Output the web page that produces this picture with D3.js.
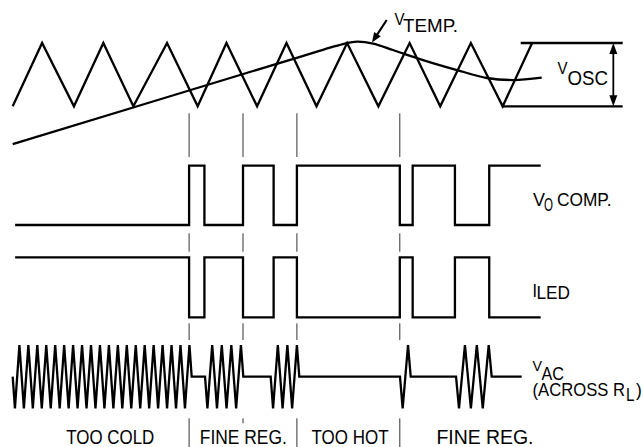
<!DOCTYPE html>
<html><head><meta charset="utf-8">
<script src="https://cdn.jsdelivr.net/npm/d3@7/dist/d3.min.js"></script>
<style>html,body{margin:0;padding:0;background:#fff}svg{display:block}</style>
</head><body><svg id="c" width="644" height="447"></svg>
<script>
// ---- data (time in oscillator periods) ----
const oscT = [0, 0.48, 1.0, 1.48, 1.97, 2.52, 3.02, 3.49, 3.99, 4.47, 4.96, 5.46, 5.97, 6.48, 6.98, 7.48, 8.0, 8.48];
const oscV = [0, 1, 0, 1, 0, 1, 0, 1, 0, 1, 0, 1, 0, 1, 0, 1, 0, 1];
const tempT = [0, 4.691, 5.18, 5.425, 5.621, 5.883, 6.209, 6.699, 7.254, 7.744, 8.169, 8.637];
const tempV = [-0.596, 0.782, 0.926, 0.992, 1.021, 0.992, 0.889, 0.731, 0.573, 0.447, 0.415, 0.452];
const edgeT = [0.04, 2.88, 3.13, 3.76, 4.26, 4.64, 6.32, 6.53, 7.22, 7.78, 8.62];
const compLevels = [0, 1, 0, 1, 0, 1, 0, 1, 0, 1];
const ledLevels = [1, 0, 1, 0, 1, 0, 1, 0, 1, 0];
const guideT = [2.88, 3.76, 4.64, 6.32];
const vacStartT = 0, vacEndT = 8.31;
const burstStart = [0, 3.14, 4.212, 6.323, 7.238];
const burstEnd = [2.922, 3.765, 4.679, 6.498, 7.82];
const burstCycles = [20, 4, 3, 1, 3];
const regionLabels = ["TOO COLD", "FINE REG.", "TOO HOT", "FINE REG."];
const regionCenterT = [1.594, 3.765, 5.507, 7.711];
const oscBoxT = [7.984, 8.294, 9.959, 9.806]; // bottom-line start, top-line start, line end, arrow

const svg = d3.select("#c");
const x = d3.scaleLinear().domain([0, 8]).range([12.7, 502.7]);
const yOsc = d3.scaleLinear().domain([0, 1]).range([106.3, 43]);
const yComp = d3.scaleLinear().domain([0, 1]).range([225, 165.7]);
const yLed = d3.scaleLinear().domain([0, 1]).range([317.3, 257.3]);
const yVac = d3.scaleLinear().domain([-1, 1]).range([408.3, 345]);

const SW = 2.3;
function path(pts, ys, curve) {
  return svg.append("path")
    .attr("d", d3.line().x(d => x(d[0])).y(d => ys(d[1])).curve(curve || d3.curveLinear)(pts))
    .attr("fill", "none").attr("stroke", "#000").attr("stroke-width", SW)
    .attr("stroke-linejoin", "miter").attr("stroke-miterlimit", 10);
}

// oscillator triangle
path(oscT.map((t, i) => [t, oscV[i]]), yOsc);
// V TEMP curve
path(tempT.map((t, i) => [t, tempV[i]]), yOsc, d3.curveCatmullRom.alpha(0.5));

// comparator / LED step signals
function stepPts(levels) {
  const p = levels.map((l, i) => [edgeT[i], l]);
  p.push([edgeT[edgeT.length - 1], levels[levels.length - 1]]);
  return p;
}
path(stepPts(compLevels), yComp, d3.curveStepAfter);
path(stepPts(ledLevels), yLed, d3.curveStepAfter);

// V AC bursts
const vac = [[vacStartT, 0]];
burstStart.forEach((bs, i) => {
  const be = burstEnd[i], n = burstCycles[i], h = (be - bs) / (2 * n);
  vac.push([bs, 0]);
  for (let k = 0; k < 2 * n; k++) vac.push([bs + (k + 0.5) * h, k % 2 === 0 ? -1 : 1]);
  vac.push([be, 0]);
});
vac.push([vacEndT, 0]);
path(vac, yVac);

// guide lines
const guideSegs = [[113.3, 157], [233.3, 251.7], [323.3, 340]];
guideT.forEach((t, i) => {
  const segs = guideSegs.concat([[418.3, i === 1 ? 423.3 : 447]]);
  segs.forEach(s => svg.append("line")
    .attr("x1", x(t)).attr("x2", x(t)).attr("y1", s[0]).attr("y2", s[1])
    .attr("stroke", "#333").attr("stroke-width", 1));
});

// V OSC dimension
const lineAttr = sel => sel.attr("stroke", "#000").attr("stroke-width", SW);
svg.append("line").attr("x1", x(oscBoxT[1])).attr("x2", x(oscBoxT[2])).attr("y1", yOsc(1)).attr("y2", yOsc(1)).call(lineAttr);
svg.append("line").attr("x1", x(oscBoxT[0])).attr("x2", x(oscBoxT[2])).attr("y1", yOsc(0)).attr("y2", yOsc(0)).call(lineAttr);
const ax = x(oscBoxT[3]);
svg.append("line").attr("x1", ax).attr("x2", ax).attr("y1", yOsc(1) + 6).attr("y2", yOsc(0) - 6).attr("stroke", "#000").attr("stroke-width", 1.8);
svg.append("path").attr("d", `M${ax},${yOsc(1)} l-4,11 l8,0 Z M${ax},${yOsc(0)} l-4,-11 l8,0 Z`).attr("fill", "#000");

// V TEMP pointer arrow
(function () {
  const x1 = 386.7, y1 = 20, x2 = 372, y2 = 42.5;
  const dx = x2 - x1, dy = y2 - y1, L = Math.hypot(dx, dy), ux = dx / L, uy = dy / L;
  const hl = 10, hw = 4;
  svg.append("line").attr("x1", x1).attr("y1", y1).attr("x2", x2 - ux * hl * 0.7).attr("y2", y2 - uy * hl * 0.7)
    .attr("stroke", "#000").attr("stroke-width", 2.2);
  const bx = x2 - ux * hl, by = y2 - uy * hl;
  svg.append("path").attr("d", `M${x2},${y2} L${bx - uy * hw},${by + ux * hw} L${bx + uy * hw},${by - ux * hw} Z`).attr("fill", "#000");
})();

// text: each label is one <text> made of positioned <tspan> parts
const FONT = "'Liberation Sans Narrow','Arial Narrow','Liberation Sans',Arial,sans-serif";
function label(parts) {
  const t = svg.append("text").attr("font-family", FONT).attr("fill", "#000");
  parts.forEach(([s, x0, base, size, len]) => {
    const sp = t.append("tspan").attr("x", x0).attr("y", base).attr("font-size", size).text(s);
    if (len) sp.attr("textLength", len).attr("lengthAdjust", "spacingAndGlyphs");
  });
  return t;
}
label([["V", 394.5, 25, 17, 10], ["TEMP.", 403, 31.7, 19, 55]]);
label([["V", 557.5, 74.3, 17, 10], ["OSC", 567.5, 84.5, 20, 40.5]]);
label([["V", 533, 206, 19, 12], ["O", 544, 210.5, 18, 9], ["COMP.", 557, 206, 19, 54.5]]);
label([["I", 532.5, 296.5, 19, 4.5], ["LED", 536.5, 298.5, 18, 33.5]]);
label([["V", 532.5, 370.5, 15, 9.5], ["AC", 541.5, 380.3, 19, 22.5]]);
label([["(ACROSS R", 532.5, 395.8, 19, 92.5], ["L", 626, 401, 18, 8.5], [")", 636, 395.8, 19, 5.8]]);
const labelLen = [88, 87, 77, 97];
regionLabels.forEach((s, i) => svg.append("text")
  .attr("x", x(regionCenterT[i])).attr("y", 443.8)
  .attr("font-family", FONT).attr("font-size", 19.5).attr("text-anchor", "middle")
  .attr("textLength", labelLen[i]).attr("lengthAdjust", "spacingAndGlyphs").text(s));
</script></body></html>
